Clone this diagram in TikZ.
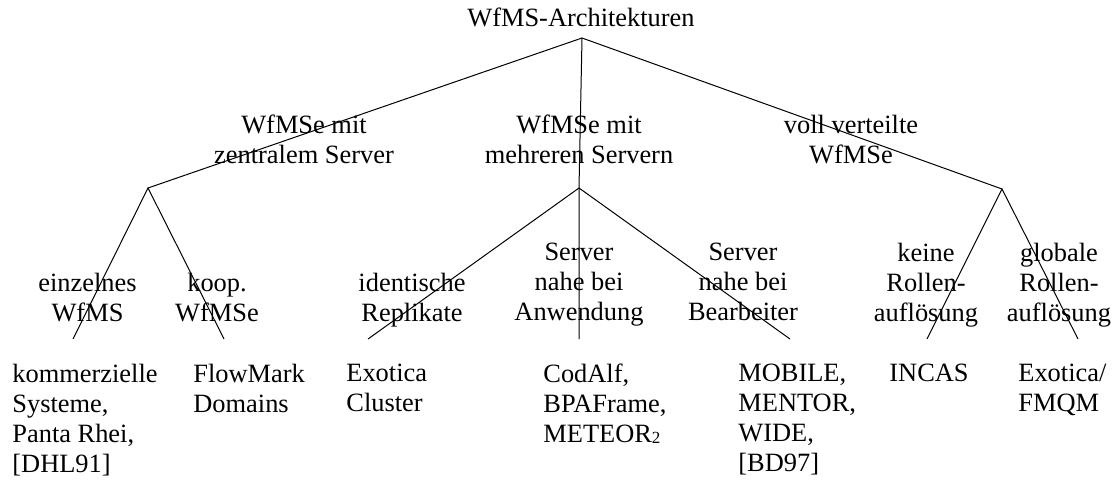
\documentclass[tikz,border=0pt]{standalone}
\usepackage{fontspec}
\setmainfont{Liberation Serif}
\usepackage{tikz}

\newcommand{\archfont}{\fontsize{13.2}{15}\selectfont}
\newcommand{\smallidx}[1]{\raisebox{-0.4pt}{\fontsize{8.5}{10}\selectfont #1}}

\begin{document}
\begin{tikzpicture}[
    x=0.5pt, y=-0.5pt,
    txt/.style={align=center, inner sep=0pt, anchor=north, font=\archfont},
    leaf/.style={align=left, inner sep=0pt, anchor=north west, font=\archfont},
    branch/.style={line width=0.5pt}
]
    \useasboundingbox (0,0) rectangle (1117,481);

    % root
    \node[txt] (root) at (581,8) {WfMS-Architekturen};
    \coordinate (r) at (582,38);

    % first level
    \node[txt] (zentral) at (304,115) {WfMSe mit\\zentralem Server};
    \node[txt] (mehrere) at (579,115) {WfMSe mit\\mehreren Servern};
    \node[txt] (verteilt) at (851,115) {voll verteilte\\WfMSe};
    \coordinate (a) at (148,188);
    \coordinate (b) at (579,188);
    \coordinate (c) at (1002,189);

    % second level
    \node[txt] (einzeln) at (87.5,273) {einzelnes\\WfMS};
    \node[txt] (koop) at (217,273) {koop.\\WfMSe};
    \node[txt] (repl) at (412,273) {identische\\Replikate};
    \node[txt] (anw) at (579,243) {Server\\nahe bei\\Anwendung};
    \node[txt] (bearb) at (743,243) {Server\\nahe bei\\Bearbeiter};
    \node[txt] (keine) at (926,243) {keine\\Rollen-\\auflösung};
    \node[txt] (global) at (1059,243) {globale\\Rollen-\\auflösung};
    \coordinate (e1) at (73,339);
    \coordinate (e2) at (224,339);
    \coordinate (e3) at (368,339);
    \coordinate (e4) at (579,339);
    \coordinate (e5) at (790,339);
    \coordinate (e6) at (927,339);
    \coordinate (e7) at (1078,339);

    % systems
    \node[leaf] (l1) at (12,364) {kommerzielle\\Systeme,\\Panta Rhei,\\{[DHL91]}};
    \node[leaf] (l2) at (193,364) {FlowMark\\Domains};
    \node[leaf] (l3) at (346,364) {Exotica\\Cluster};
    \node[leaf] (l4) at (543,364) {CodAlf,\\BPAFrame,\\METEOR\smallidx{2}};
    \node[leaf] (l5) at (738,364) {MOBILE,\\MENTOR,\\WIDE,\\{[BD97]}};
    \node[leaf] (l6) at (889,364) {INCAS};
    \node[leaf] (l7) at (1018,364) {Exotica/\\FMQM};

    % branches
    \draw[branch] (a) -- (r) -- (c);
    \draw[branch] (r) -- (b) -- (e4);
    \draw[branch] (e1) -- (a) -- (e2);
    \draw[branch] (e3) -- (b) -- (e5);
    \draw[branch] (e6) -- (c) -- (e7);
\end{tikzpicture}
\end{document}
